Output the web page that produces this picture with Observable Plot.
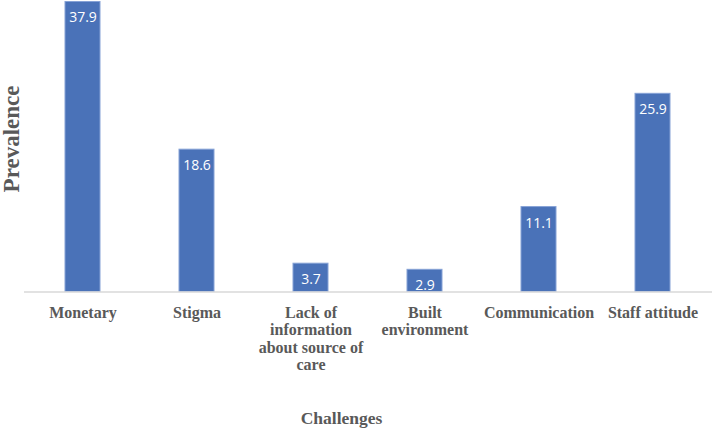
<!DOCTYPE html>
<html><head><meta charset="utf-8">
<script src="https://cdn.jsdelivr.net/npm/d3@7"></script>
<script src="https://cdn.jsdelivr.net/npm/@observablehq/plot@0.6"></script>
<style>body{margin:0;background:#fff}</style>
</head><body><div id="chart"></div>
<script>
const categories = ["Monetary","Stigma","Lack of information about source of care","Built environment","Communication","Staff attitude"];
const tickLabels = ["Monetary","Stigma","Lack of\ninformation\nabout source of\ncare","Built\nenvironment","Communication","Staff attitude"];
const values = [37.9, 18.6, 3.7, 2.9, 11.1, 25.9];
const xTitle = "Challenges";
const yTitle = "Prevalence";

const data = categories.map((c,i)=>({c, v: values[i], t: tickLabels[i]}));
const serif = "'Liberation Serif','Times New Roman',serif";

const chart = Plot.plot({
  width: 714, height: 430,
  marginLeft: 24, marginRight: 2, marginTop: 1.5, marginBottom: 138.5,
  style: {background: "#fff", overflow: "visible", fontFamily: serif},
  x: {domain: categories, paddingInner: 0.69, paddingOuter: 0.345, axis: null},
  y: {domain: [0, 37.9], axis: null},
  marks: [
    Plot.barY(data, {x: "c", y: "v", fill: "#4a72b8", stroke: "#86a2d6", strokeWidth: 1}),
    Plot.ruleY([0], {stroke: "#d9d9d9", strokeWidth: 1.5}),
    Plot.text(data, {x: "c", y: "v", text: d => d.v.toFixed(1), dy: 16, fill: "#fff",
      fontSize: 14, fontFamily: "'Open Sans','Liberation Sans',sans-serif"}),
    Plot.text(data, {x: "c", frameAnchor: "bottom", text: "t", lineAnchor: "top", dy: 13,
      fontSize: 16, fontWeight: "bold", fontFamily: serif, fill: "#595959", lineHeight: 1.1}),
    Plot.text([xTitle], {frameAnchor: "bottom", text: d => d, dx: -27, dy: 132,
      fontSize: 17.5, fontWeight: "bold", fontFamily: serif, fill: "#595959"}),
    Plot.text([yTitle], {frameAnchor: "left", text: d => d, rotate: -90, textAnchor: "middle", dx: -13, dy: -8,
      fontSize: 23, fontWeight: "bold", fontFamily: serif, fill: "#595959"})
  ]
});
document.getElementById("chart").appendChild(chart);
</script>
</body></html>
